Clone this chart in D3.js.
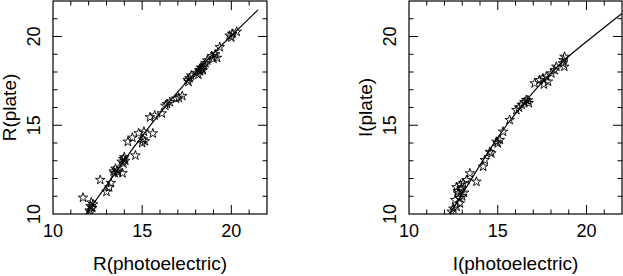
<!DOCTYPE html>
<html>
<head>
<meta charset="utf-8">
<script src="https://cdn.jsdelivr.net/npm/d3@7"></script>
<style>
  body { margin: 0; background: #fff; }
  svg { display: block; }
  .lbl { font-family: "Liberation Sans", Arial, sans-serif; font-size: 18px; fill: #000; }
  .ttl { font-size: 19px; }
</style>
</head>
<body>
<div id="chart"></div>
<script>
// R band: photoelectric vs plate magnitudes
var rPhoto = [11.68, 12.05, 12.1, 12.15, 12.2, 12.25, 12.1, 12.65, 13.0, 13.15, 13.25, 13.4, 13.5, 13.6, 13.45, 13.65,
    13.9, 13.85, 13.95, 14.0, 14.05, 13.95, 14.2, 14.45, 14.8, 15.1, 14.62, 15.05, 15.15, 15.0, 15.6, 15.44, 15.7,
    16.1, 16.4, 16.55, 16.3, 16.9, 17.05, 17.25, 17.55, 17.65, 17.6, 17.75, 18.05, 18.2, 18.3, 18.4, 18.15, 18.45,
    18.55, 18.65, 18.35, 18.25, 18.9, 19.1, 19.2, 19.0, 19.35, 19.9, 20.05, 20.0, 20.3];
var rPlate = [10.92, 10.2, 10.45, 10.65, 10.35, 10.55, 10.1, 11.92, 11.25, 11.5, 11.75, 12.4, 12.55, 12.45, 12.3, 12.35,
    12.3, 12.95, 13.1, 13.2, 13.0, 12.85, 14.07, 14.3, 14.55, 14.64, 13.3, 14.2, 14.1, 14.0, 14.54, 15.45, 15.55,
    15.67, 16.2, 16.3, 16.1, 16.5, 16.55, 16.65, 17.55, 17.65, 17.45, 17.8, 17.95, 18.1, 18.25, 18.1, 17.85, 18.35,
    18.5, 18.65, 18.2, 18.05, 18.9, 19.0, 18.8, 18.75, 19.4, 20.05, 20.15, 19.95, 20.27];

// I band
var iPhoto = [12.4, 12.5, 12.68, 12.6, 12.87, 12.77, 12.96, 12.68, 12.85, 12.75, 13.05, 12.9, 13.24, 13.43, 13.8, 13.1,
    13.0, 14.18, 14.27, 14.64, 14.55, 14.93, 15.12, 15.0, 15.3, 15.67, 16.05, 16.2, 16.35, 16.5, 16.7, 16.61, 16.75,
    17.08, 17.36, 17.55, 17.74, 17.83, 17.6, 18.02, 18.2, 18.3, 18.67, 18.76, 18.7, 18.75];
var iPlate = [10.13, 10.3, 10.41, 10.79, 10.6, 11.16, 11.44, 11.51, 10.9, 11.3, 11.73, 11.65, 11.91, 12.29, 11.82, 11.2,
    11.0, 12.67, 13.04, 13.42, 13.5, 14.07, 14.17, 13.98, 14.64, 15.3, 15.86, 16.0, 16.15, 16.3, 16.4, 16.42, 16.25,
    17.36, 17.55, 17.64, 17.74, 17.46, 17.3, 17.92, 18.1, 18.3, 18.49, 18.86, 18.67, 18.3];

// calibration curves
var rFitX = [11.85, 13, 14, 15, 16, 17, 18, 19, 20, 21.5];
var rFitY = [10, 11.6, 13.05, 14.4, 15.7, 16.9, 18.0, 19.05, 20.05, 21.5];
var iFitX = [12.3, 13.6, 14.55, 15.5, 16.6, 17.5, 18.7, 19.6, 22];
var iFitY = [10, 12.1, 13.65, 15.05, 16.4, 17.45, 18.65, 19.4, 21.3];

var majorTicks = [10, 15, 20];
var minorTicks = d3.range(10, 23, 1);

var width = 623, height = 276;

var svg = d3.select("#chart")
    .append("svg")
    .attr("width", width)
    .attr("height", height);

function drawPanel(id, left, right, xs, ys, fx, fy, xTitle, yTitle) {
    var top = 1, bottom = 214;
    var x = d3.scaleLinear().domain([10, 22]).range([left, right]);
    var y = d3.scaleLinear().domain([10, 22]).range([bottom, top]);

    var g = svg.append("g").attr("class", "panel-" + id);

    g.append("clipPath").attr("id", "clip-" + id)
      .append("rect")
        .attr("x", left).attr("y", top)
        .attr("width", right - left).attr("height", bottom - top);

    // ticks, inside, all four sides
    minorTicks.forEach(function(t) {
        var len = majorTicks.indexOf(t) >= 0 ? 9 : 4.5;
        var px = x(t), py = y(t);
        if (t > 10 && t < 22) {
            g.append("line").attr("x1", px).attr("x2", px).attr("y1", bottom).attr("y2", bottom - len);
            g.append("line").attr("x1", px).attr("x2", px).attr("y1", top).attr("y2", top + len);
            g.append("line").attr("y1", py).attr("y2", py).attr("x1", left).attr("x2", left + len);
            g.append("line").attr("y1", py).attr("y2", py).attr("x1", right).attr("x2", right - len);
        }
    });
    g.selectAll("line").attr("stroke", "#000").attr("stroke-width", 1);

    g.append("rect")
        .attr("x", left).attr("y", top)
        .attr("width", right - left).attr("height", bottom - top)
        .attr("fill", "none").attr("stroke", "#000").attr("stroke-width", 1.2);

    // tick labels
    g.selectAll(".xlab").data(majorTicks).enter().append("text")
        .attr("class", "lbl")
        .attr("x", function(d) { return x(d); })
        .attr("y", 237)
        .attr("text-anchor", "middle")
        .text(function(d) { return d; });

    g.selectAll(".ylab").data(majorTicks).enter().append("text")
        .attr("class", "lbl")
        .attr("text-anchor", "middle")
        .attr("transform", function(d) { return "translate(" + (left - 13) + "," + y(d) + ")rotate(-90)"; })
        .text(function(d) { return d; });

    // titles
    g.append("text").attr("class", "lbl ttl")
        .attr("x", (left + right) / 2).attr("y", 270)
        .attr("text-anchor", "middle")
        .text(xTitle);

    g.append("text").attr("class", "lbl ttl")
        .attr("text-anchor", "middle")
        .attr("transform", "translate(" + (left - 37) + "," + ((top + bottom) / 2) + ")rotate(-90)")
        .text(yTitle);

    var plot = g.append("g").attr("clip-path", "url(#clip-" + id + ")");

    var line = d3.line()
        .x(function(d, i) { return x(fx[i]); })
        .y(function(d, i) { return y(fy[i]); })
        .curve(d3.curveBasis);

    plot.append("path")
        .attr("d", line(fx))
        .attr("fill", "none")
        .attr("stroke", "#000")
        .attr("stroke-width", 1.2);

    var star = d3.symbol().type(d3.symbolStar).size(28);
    plot.selectAll(".star").data(xs).enter().append("path")
        .attr("class", "star")
        .attr("transform", function(d, i) { return "translate(" + x(d) + "," + y(ys[i]) + ")"; })
        .attr("d", star)
        .attr("fill", "none")
        .attr("stroke", "#000")
        .attr("stroke-width", 0.9);
}

drawPanel("r", 53, 267, rPhoto, rPlate, rFitX, rFitY, "R(photoelectric)", "R(plate)");
drawPanel("i", 409, 622, iPhoto, iPlate, iFitX, iFitY, "I(photoelectric)", "I(plate)");
</script>
</body>
</html>
